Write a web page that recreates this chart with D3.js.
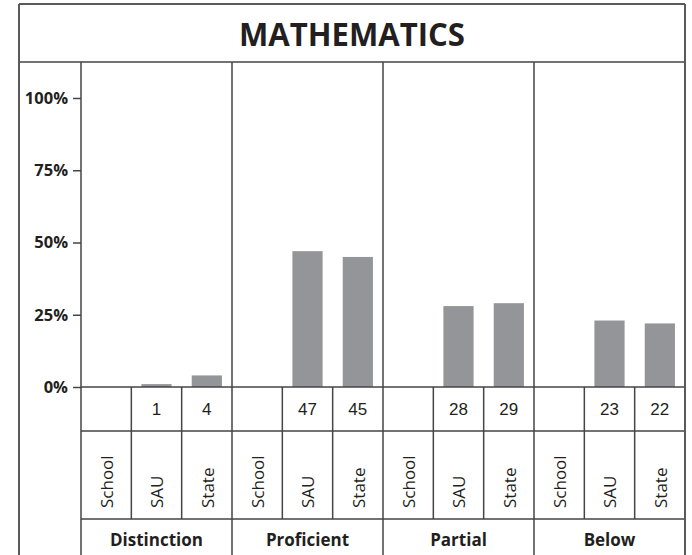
<!DOCTYPE html>
<html>
<head>
<meta charset="utf-8">
<script src="https://cdn.jsdelivr.net/npm/d3@7"></script>
<style>
  html, body { margin: 0; padding: 0; background: #fff; }
  svg { display: block; }
</style>
</head>
<body>
<svg id="chart" width="692" height="555"></svg>
<script>
// Achievement levels and comparison groups
const categories = ["Distinction", "Proficient", "Partial", "Below"];
const series = ["School", "SAU", "State"];
// Percent of students per level (School has no reported values)
const schoolValues = [null, null, null, null];
const sauValues = [1, 47, 28, 23];
const stateValues = [4, 45, 29, 22];
const yTicks = [0, 25, 50, 75, 100];
const title = "MATHEMATICS";

const valuesBySeries = { School: schoolValues, SAU: sauValues, State: stateValues };

const W = 692, H = 555;
const frame = { left: 19, right: 685, top: 4 };
const titleBottom = 62;
const plotLeft = 81;
const zeroY = 387, topY = 98;
const valueRowBottom = 431, labelRowBottom = 519;

const lineColor = "#454545";
const barColor = "#939598";
const textColor = "#231f20";

const svg = d3.select("#chart");

const y = d3.scaleLinear().domain([0, 100]).range([zeroY, topY]);
const xGroup = d3.scaleBand().domain(categories).range([plotLeft, frame.right]);
const xCol = d3.scaleBand().domain(series).range([0, xGroup.bandwidth()]);
const barW = xCol.bandwidth() * 0.6;

// Title
svg.append("text")
  .attr("x", (frame.left + frame.right) / 2)
  .attr("y", 46)
  .attr("text-anchor", "middle")
  .attr("font-family", "'Open Sans', sans-serif")
  .attr("font-weight", 700)
  .attr("font-size", 33)
  .attr("textLength", 226)
  .attr("lengthAdjust", "spacingAndGlyphs")
  .attr("fill", textColor)
  .text(title);

// Bars
const rows = [];
categories.forEach((c, i) => {
  series.forEach(s => {
    rows.push({ cat: c, ser: s, v: valuesBySeries[s][i] });
  });
});

svg.append("g").selectAll("rect")
  .data(rows.filter(d => d.v != null))
  .join("rect")
  .attr("x", d => xGroup(d.cat) + xCol(d.ser) + (xCol.bandwidth() - barW) / 2)
  .attr("y", d => y(d.v))
  .attr("width", barW)
  .attr("height", d => zeroY - y(d.v))
  .attr("fill", barColor);

// Y axis
const yAxis = d3.axisLeft(y)
  .tickValues(yTicks)
  .tickSize(8)
  .tickPadding(5)
  .tickFormat(d => d + "%");

const ag = svg.append("g")
  .attr("transform", `translate(${plotLeft},0)`)
  .call(yAxis);
ag.select(".domain").remove();
ag.selectAll(".tick line").attr("stroke", lineColor).attr("stroke-width", 1.5);
ag.selectAll(".tick text")
  .attr("font-family", "'Open Sans', sans-serif")
  .attr("font-weight", 700)
  .attr("font-size", 16.5)
  .attr("fill", textColor);

// Table grid
const grid = svg.append("g")
  .attr("stroke", lineColor)
  .attr("stroke-width", 1.5)
  .attr("fill", "none");

[zeroY, valueRowBottom, labelRowBottom].forEach(yy => {
  grid.append("line").attr("x1", plotLeft).attr("x2", frame.right).attr("y1", yy).attr("y2", yy);
});
grid.append("line").attr("x1", frame.left).attr("x2", frame.right).attr("y1", titleBottom).attr("y2", titleBottom);

// Group dividers (full height below title)
categories.forEach(c => {
  const gx = xGroup(c);
  grid.append("line").attr("x1", gx).attr("x2", gx).attr("y1", titleBottom).attr("y2", H);
  series.slice(1).forEach(s => {
    const cx = gx + xCol(s);
    grid.append("line").attr("x1", cx).attr("x2", cx).attr("y1", zeroY).attr("y2", labelRowBottom);
  });
});

// Outer frame
const outer = svg.append("g").attr("stroke", "#5a5a5a").attr("stroke-width", 2).attr("fill", "none");
outer.append("line").attr("x1", frame.left).attr("x2", frame.left).attr("y1", frame.top).attr("y2", H);
outer.append("line").attr("x1", frame.right).attr("x2", frame.right).attr("y1", frame.top).attr("y2", H);
outer.append("line").attr("x1", frame.left).attr("x2", frame.right).attr("y1", frame.top).attr("y2", frame.top);

// Value row
svg.append("g").selectAll("text")
  .data(rows.filter(d => d.v != null))
  .join("text")
  .attr("x", d => xGroup(d.cat) + xCol(d.ser) + xCol.bandwidth() / 2)
  .attr("y", (zeroY + valueRowBottom) / 2 + 6)
  .attr("text-anchor", "middle")
  .attr("font-family", "'Liberation Sans', Arial, sans-serif")
  .attr("font-size", 17)
  .attr("fill", textColor)
  .text(d => d.v);

// Rotated series labels
svg.append("g").selectAll("text")
  .data(rows)
  .join("text")
  .attr("transform", d => {
    const cx = xGroup(d.cat) + xCol(d.ser) + xCol.bandwidth() / 2;
    return `translate(${cx + 1},${labelRowBottom - 11}) rotate(-90)`;
  })
  .attr("text-anchor", "start")
  .attr("dy", "0.35em")
  .attr("font-family", "'Open Sans', sans-serif")
  .attr("font-weight", 400)
  .attr("font-size", 17)
  .attr("fill", textColor)
  .text(d => d.ser);

// Group labels
svg.append("g").selectAll("text")
  .data(categories)
  .join("text")
  .attr("x", d => xGroup(d) + xGroup.bandwidth() / 2)
  .attr("y", 546)
  .attr("text-anchor", "middle")
  .attr("font-family", "'Open Sans', sans-serif")
  .attr("font-weight", 700)
  .attr("font-size", 17)
  .attr("fill", textColor)
  .text(d => d);
</script>
</body>
</html>
